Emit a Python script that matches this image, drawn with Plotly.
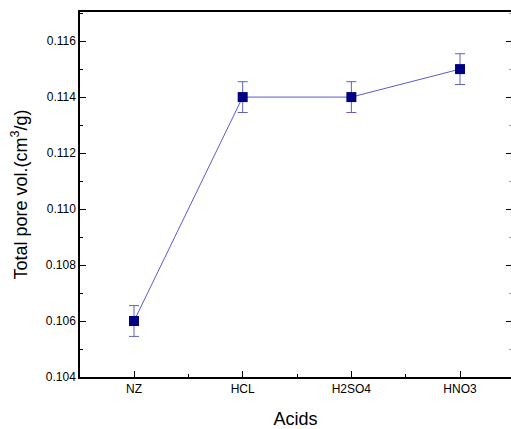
import plotly.graph_objects as go

categories = ["NZ", "HCL", "H2SO4", "HNO3"]
values = [0.106, 0.114, 0.114, 0.115]
errors = [0.00055, 0.00055, 0.00055, 0.00055]
x_pos = [0, 1, 2, 3]

fig = go.Figure()
fig.add_trace(go.Scatter(
    x=x_pos, y=values, mode="lines+markers",
    line=dict(color="#5a5ad0", width=1),
    marker=dict(symbol="square", size=10, color="#000080"),
    error_y=dict(type="data", array=errors, visible=True, color="#6060c0", thickness=1, width=5),
    showlegend=False,
))
# invisible trace for right-side ticks
fig.add_trace(go.Scatter(x=[0], y=[0.11], yaxis="y2", mode="markers",
                         marker=dict(opacity=0), showlegend=False, hoverinfo="skip"))

font = "Liberation Sans, Arial, sans-serif"
fig.update_layout(
    width=511, height=429,
    margin=dict(l=80, r=0, t=12, b=52),
    plot_bgcolor="white", paper_bgcolor="white",
    font=dict(family=font, color="black"),
    xaxis=dict(
        range=[-0.497, 3.469], tickvals=x_pos, ticktext=categories,
        showline=True, linecolor="black", linewidth=1.5, mirror=True,
        ticks="inside", ticklen=6, tickcolor="black", tickwidth=1,
        minor=dict(dtick=0.5, tick0=0.5, ticks="inside", ticklen=3, tickcolor="black"),
        showgrid=False, zeroline=False,
        tickfont=dict(size=12, family=font),
        title=dict(text="Acids", font=dict(size=18, family=font), standoff=18),
    ),
    yaxis=dict(
        range=[0.104, 0.11704], dtick=0.002, tick0=0.104, tickformat=".3f",
        showline=True, linecolor="black", linewidth=1.5, mirror=False,
        ticks="inside", ticklen=6, tickcolor="black", tickwidth=1,
        minor=dict(dtick=0.001, ticks="inside", ticklen=3, tickcolor="black"),
        showgrid=False, zeroline=False,
        tickfont=dict(size=12, family=font),
        title=dict(text="Total pore vol.(cm<sup>3</sup>/g)", font=dict(size=18, family=font), standoff=14),
    ),
    yaxis2=dict(
        range=[0.104, 0.11704], dtick=0.002, tick0=0.104, overlaying="y", side="right",
        showline=False, showticklabels=False, ticks="inside", ticklen=5, tickcolor="black",
        minor=dict(dtick=0.001, ticks="inside", ticklen=2, tickcolor="#999"),
        showgrid=False, zeroline=False,
    ),
)

fig.write_html("out.html")
